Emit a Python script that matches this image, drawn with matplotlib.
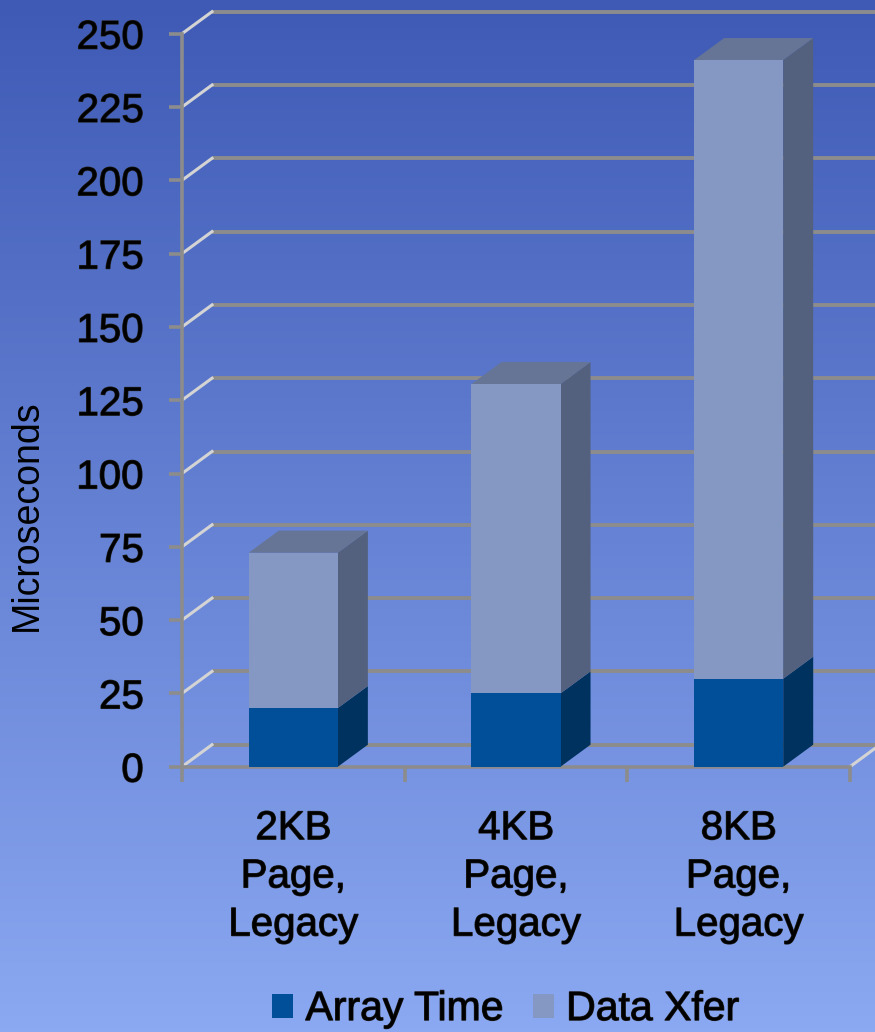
import numpy as np
import matplotlib
matplotlib.use("Agg")
import matplotlib.pyplot as plt
from matplotlib.patches import Polygon, Patch
import matplotlib.patheffects as pe

categories = ["2KB\nPage,\nLegacy", "4KB\nPage,\nLegacy", "8KB\nPage,\nLegacy"]
array_time = [20, 25, 30]
data_xfer = [53, 105.5, 211]
series_names = ["Array Time", "Data Xfer"]
y_ticks = [0, 25, 50, 75, 100, 125, 150, 175, 200, 225, 250]

W, H = 875, 1032
fig = plt.figure(figsize=(W / 100, H / 100), dpi=100)
plt.rcParams["font.family"] = ["Liberation Sans", "DejaVu Sans"]

# background gradient
bg = fig.add_axes([0, 0, 1, 1], zorder=-10)
top = np.array([62, 90, 181]) / 255
bot = np.array([139, 168, 242]) / 255
t = np.linspace(0, 1, 256)[:, None]
grad = top[None, :] * (1 - t) + bot[None, :] * t
bg.imshow(grad[:, None, :], aspect="auto", extent=[0, 1, 0, 1])
bg.set_axis_off()

# front plane of the plot
x0, x1, y0, y1 = 182, 850, 766.7, 33.7
ax = fig.add_axes([x0 / W, (H - y0) / H, (x1 - x0) / W, (y0 - y1) / H])
ax.patch.set_visible(False)
ax.set_xlim(0, 3)
ax.set_ylim(0, 250)

gray = "#8c8c8c"
light = "#d4d4d4"
dx = 30 / ((x1 - x0) / 3)          # depth offset in data units
dy = 22 / ((y0 - y1) / 250)
xr = 3.2

for s in ["top", "right"]:
    ax.spines[s].set_visible(False)
for s in ["left", "bottom"]:
    ax.spines[s].set_color(gray)
    ax.spines[s].set_linewidth(2.6)

ax.set_yticks(y_ticks)
ax.tick_params(axis="y", length=9.5, width=2.6, color=gray, pad=18,
               labelsize=29, labelcolor="black")
ax.set_xticks([0, 1, 2, 3])
ax.set_xticklabels([])
ax.tick_params(axis="x", length=10.5, width=2.6, color=gray)

# back wall gridlines with short diagonals
for v in y_ticks:
    ax.plot([dx, xr], [v + dy, v + dy], color=gray, lw=2.8, zorder=1,
            clip_on=False, solid_capstyle="butt")
    ax.plot([0, dx], [v, v + dy], color=light, lw=2.2, zorder=1, clip_on=False)
ax.plot([3, 3 + dx], [0, dy], color=light, lw=2.2, zorder=1, clip_on=False)

# stacked 3D columns
face_cols = ["#004f98", "#8598c4"]
side_cols = ["#00325f", "#53617e"]
top_col = "#667596"
bw = 0.4
centers = np.arange(len(categories)) + 0.5
for i, c in enumerate(centers):
    a, b = c - bw / 2, c + bw / 2
    bottom = 0
    for k, vals in enumerate([array_time, data_xfer]):
        h = vals[i]
        tp = bottom + h
        ax.add_patch(Polygon([(b, bottom), (b + dx, bottom + dy), (b + dx, tp + dy), (b, tp)],
                             closed=True, facecolor=side_cols[k], edgecolor="none",
                             zorder=3, clip_on=False))
        ax.bar(c, h, bottom=bottom, width=bw, color=face_cols[k], zorder=4, clip_on=False)
        bottom = tp
    ax.add_patch(Polygon([(a, bottom), (a + dx, bottom + dy), (b + dx, bottom + dy), (b, bottom)],
                         closed=True, facecolor=top_col, edgecolor="none",
                         zorder=3, clip_on=False))

shadow = [pe.withStroke(linewidth=0.9, foreground="#222222")]
for lab in ax.get_yticklabels():
    lab.set_path_effects(shadow)

for c, name in zip(centers, categories):
    ax.text(c, -0.058, name, transform=ax.get_xaxis_transform(), ha="center",
            va="top", fontsize=29, linespacing=1.34, path_effects=shadow)

fig.text(27 / W, 1 - 515 / H, "Microseconds", rotation=90, ha="center",
         va="center", fontsize=27)

handles = [Patch(facecolor=face_cols[0]), Patch(facecolor=face_cols[1])]
leg = fig.legend(handles, series_names, loc="lower center", bbox_to_anchor=(0.578, -0.024),
                 ncol=2, frameon=False, fontsize=29.5, handlelength=0.52,
                 handleheight=0.52, handletextpad=0.3, columnspacing=0.7, borderpad=0.2)
for txt in leg.get_texts():
    txt.set_path_effects(shadow)

fig.savefig("out.png", dpi=100)
